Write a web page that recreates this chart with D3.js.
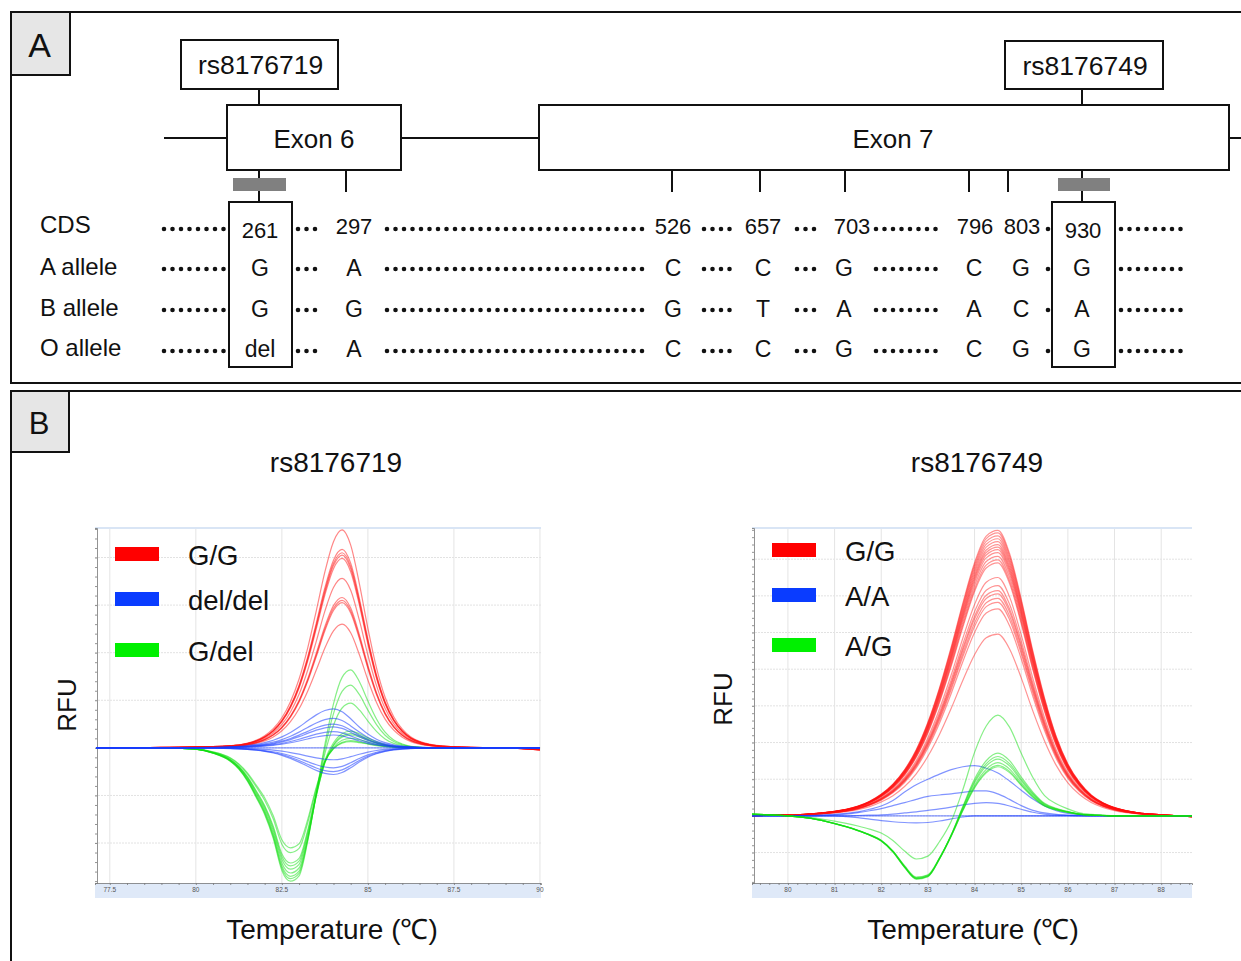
<!DOCTYPE html>
<html><head><meta charset="utf-8">
<script src="https://cdn.jsdelivr.net/npm/d3@7"></script>
<style>
body{margin:0;background:#fff}
svg{display:block}
text{font-family:"Liberation Sans",Arial,Helvetica,sans-serif;fill:#111}
</style>
</head><body>
<svg id="c" width="1241" height="961"></svg>
<script>
// ---------------- Panel A data ----------------
const panelLabels = ["A", "B"];
const snpIds = ["rs8176719", "rs8176749"];
const exonNames = ["Exon 6", "Exon 7"];
const rowLabels = ["CDS", "A allele", "B allele", "O allele"];
const cdsPositions = ["261", "297", "526", "657", "703", "796", "803", "930"];
const alleleA = ["G", "A", "C", "C", "G", "C", "G", "G"];
const alleleB = ["G", "G", "G", "T", "A", "A", "C", "A"];
const alleleO = ["del", "A", "C", "C", "G", "C", "G", "G"];

// ---------------- Panel B data ----------------
const chartTitles = ["rs8176719", "rs8176749"];
const leftLegend = ["G/G", "del/del", "G/del"];
const rightLegend = ["G/G", "A/A", "A/G"];
const leftTicks = [77.5, 80, 82.5, 85, 87.5, 90];
const leftTickLabels = ["77.5", "80", "82.5", "85", "87.5", "90"];
const rightTicks = [80, 81, 82, 83, 84, 85, 86, 87, 88];
const rightTickLabels = ["80", "81", "82", "83", "84", "85", "86", "87", "88"];

// left chart: temperature grid (°C) and curve profiles
const leftTemps = [77.1,78,79,79.5,80,80.5,81,81.25,81.5,81.75,82,82.25,82.5,82.75,83,83.25,83.5,83.75,84,84.25,84.5,84.75,85,85.25,85.5,85.75,86,86.25,86.5,86.75,87,87.5,88,89,90];
const leftRedProfile = [0,0,0.002,0.003,0.005,0.006,0.01,0.014,0.022,0.035,0.056,0.088,0.138,0.212,0.316,0.458,0.629,0.807,0.946,1,0.93,0.755,0.548,0.367,0.232,0.143,0.086,0.05,0.03,0.018,0.011,0.005,0.002,0,-0.01];
const leftBlueProfile = [0,0,0.002,0.003,0.005,0.012,0.027,0.04,0.06,0.09,0.134,0.194,0.281,0.395,0.534,0.692,0.845,0.958,1,0.927,0.744,0.534,0.353,0.22,0.134,0.079,0.046,0.027,0.015,0.009,0.005,0.002,0,0,0];
const leftGreenTrough = [0,0,0,-0.003,-0.01,-0.04,-0.1,-0.16,-0.25,-0.37,-0.5,-0.68,-0.92,-1,-0.96,-0.72,-0.4,-0.15,-0.05,-0.01,0,0,0,0,0,0,0,0,0,0,0,0,0,0,0];
const leftGreenPeak = [0,0,0,0,0,0,0,0,0,0,0,0,0,0,0,0.03,0.1,0.3,0.65,0.92,1,0.85,0.6,0.37,0.2,0.1,0.05,0.02,0.01,0,0,0,0,0,0];
// peak heights (RFU grid units) of each trace
const leftRedPeaks = [4.58, 4.17, 4.1, 4.05, 3.98, 3.56, 3.16, 3.1, 3.05, 2.6];
const leftBluePeaks = [0.82, 0.62, 0.5, 0.44, 0.34, 0.27, 0, -0.25, -0.42, -0.5, -0.56];
const leftGreenTroughDepths = [2.8, 2.75, 2.7, 2.63, 2.55, 2.48, 2.42, 2.2, 2.1];
const leftGreenPeakHeights = [1.64, 1.32, 0.94, 0.3, 0.27, 0.2, 0.35, 0.15, 0.13];

// right chart
const rightTemps = [79.2,79.5,80,80.5,81,81.25,81.5,81.75,82,82.25,82.5,82.75,83,83.25,83.5,83.75,84,84.25,84.5,84.75,85,85.25,85.5,85.75,86,86.25,86.5,86.75,87,87.5,88,88.7];
const rightRedProfile = [0.001,0.002,0.003,0.007,0.016,0.023,0.034,0.051,0.076,0.111,0.161,0.231,0.327,0.448,0.59,0.744,0.884,0.977,0.997,0.916,0.757,0.575,0.411,0.277,0.181,0.117,0.073,0.046,0.029,0.011,0.004,-0.003];
const rightGreenTrough = [0.03,0.02,0,-0.04,-0.12,-0.17,-0.23,-0.3,-0.39,-0.56,-0.8,-0.98,-0.96,-0.72,-0.42,-0.18,-0.07,-0.02,0,0,0,0,0,0,0,0,0,0,0,0,0,0];
const rightGreenPeak = [0,0,0,0,0,0,0,0,0,0,0,0,0.02,0.06,0.13,0.34,0.66,0.9,1,0.88,0.62,0.38,0.2,0.12,0.07,0.03,0.015,0.007,0,0,0,0];
const rightRedPeaks = [7.81, 7.74, 7.66, 7.58, 7.5, 7.42, 7.35, 7.28, 7.2, 7.1, 7.0, 6.92, 6.52, 6.3, 6.16, 6.07, 5.95, 5.84, 5.66, 4.97];
const rightGreenTroughDepths = [1.2, 1.76, 1.74, 1.72, 1.75, 1.7, 1.73];
const rightGreenPeakHeights = [2.75, 1.71, 1.62, 1.55, 1.45, 1.38, 1.34];
const rightBlue1 = [0,0,0,0.01,0.04,0.07,0.11,0.18,0.27,0.42,0.65,0.85,1.0,1.14,1.26,1.34,1.37,1.3,1.17,0.95,0.7,0.46,0.27,0.14,0.07,0.04,0.02,0.01,0,0,0,0];
const rightBlue2 = [0,0,0,0,0.03,0.05,0.09,0.14,0.2,0.28,0.36,0.45,0.53,0.57,0.6,0.64,0.68,0.68,0.6,0.45,0.28,0.15,0.08,0.04,0.02,0.01,0,0,0,0,0,0];
const rightBlue3 = [0,0,0,0,0,0,0.01,0.02,0.03,0.05,0.08,0.11,0.15,0.19,0.24,0.3,0.34,0.36,0.34,0.27,0.18,0.1,0.05,0.02,0.01,0,0,0,0,0,0,0];
const rightBlue4 = [0,0,0,0,0,-0.02,-0.05,-0.09,-0.13,-0.16,-0.18,-0.19,-0.18,-0.14,-0.08,-0.03,0,0,0,0,0,0,0,0,0,0,0,0,0,0,0,0];
const rightBlue5 = [0,0,0,0,0,0,0,0,0,0,0,0,0,0,0,0,0,0,0,0,0,0,0,0,0,0,0,0,0,0,0,0];

// ---------------- drawing ----------------
const svg = d3.select("#c");
const INK = "#111";

// ===== Panel A =====
const A = svg.append("g");
A.append("path").attr("d", "M1245,12 H11 V383 H1245").attr("fill", "none").attr("stroke", INK).attr("stroke-width", 2);
svg.append("path").attr("d", "M1245,391 H11 V965").attr("fill", "none").attr("stroke", INK).attr("stroke-width", 2);
const labelBoxes = [{x: 11, y: 12, w: 59, h: 63, fs: 34, ty: 57}, {x: 11, y: 391, w: 58, h: 61, fs: 31, ty: 434}];
panelLabels.forEach((t, i) => {
  const b = labelBoxes[i];
  svg.append("rect").attr("x", b.x).attr("y", b.y).attr("width", b.w).attr("height", b.h)
    .attr("fill", "#e6e6e6").attr("stroke", INK).attr("stroke-width", 2);
  svg.append("text").attr("x", b.x + b.w / 2 - 1).attr("y", b.ty).attr("text-anchor", "middle")
    .attr("font-size", b.fs).text(t);
});

const intronY = 138;
[[164, 227], [401, 539], [1229, 1245]].forEach(s => {
  A.append("line").attr("x1", s[0]).attr("x2", s[1]).attr("y1", intronY).attr("y2", intronY)
    .attr("stroke", INK).attr("stroke-width", 2);
});
const exonBoxes = [{x: 227, w: 174, cx: 314}, {x: 539, w: 690, cx: 893}];
exonNames.forEach((n, i) => {
  const e = exonBoxes[i];
  A.append("rect").attr("x", e.x).attr("y", 105).attr("width", e.w).attr("height", 65)
    .attr("fill", "#fff").attr("stroke", INK).attr("stroke-width", 2);
  A.append("text").attr("x", e.cx).attr("y", 148).attr("text-anchor", "middle").attr("font-size", 26).text(n);
});
const snpBoxes = [{x: 181, y: 40, w: 157, h: 49, cx: 259}, {x: 1005, y: 41, w: 158, h: 48, cx: 1082}];
snpIds.forEach((n, i) => {
  const b = snpBoxes[i];
  A.append("line").attr("x1", b.cx).attr("x2", b.cx).attr("y1", b.y + b.h).attr("y2", 105).attr("stroke", INK).attr("stroke-width", 2);
  A.append("rect").attr("x", b.x).attr("y", b.y).attr("width", b.w).attr("height", b.h)
    .attr("fill", "#fff").attr("stroke", INK).attr("stroke-width", 2);
  A.append("text").attr("x", b.x + b.w / 2 + 1).attr("y", b.y + 34).attr("text-anchor", "middle").attr("font-size", 26.5).text(n);
});
const tickX = [259, 346, 672, 760, 845, 969, 1008, 1082];
const snpCols = [0, 7];
tickX.forEach((x, i) => {
  const isSnp = snpCols.includes(i);
  A.append("line").attr("x1", x).attr("x2", x).attr("y1", 170).attr("y2", isSnp ? 202 : 192)
    .attr("stroke", INK).attr("stroke-width", 2);
});
[[233, 286], [1058, 1110]].forEach(s => {
  A.append("rect").attr("x", s[0]).attr("y", 178).attr("width", s[1] - s[0]).attr("height", 13).attr("fill", "#808080");
});
[[229, 292], [1052, 1115]].forEach(s => {
  A.append("rect").attr("x", s[0]).attr("y", 202).attr("width", s[1] - s[0]).attr("height", 165)
    .attr("fill", "none").attr("stroke", INK).attr("stroke-width", 2);
});

const rowDotY = [229, 269, 310, 351];
const rowTextY = [234, 276, 317, 357];
const dotSegs = [[164, 224], [298, 323], [387, 642], [704, 734], [797, 814], [876, 941], [1048, 1049], [1121, 1186]];
rowLabels.forEach((lab, r) => {
  A.append("text").attr("x", 40).attr("y", rowTextY[r] - 1).attr("font-size", 24).text(lab);
  dotSegs.forEach(s => {
    A.append("line").attr("x1", s[0]).attr("x2", s[1] + 0.1).attr("y1", rowDotY[r]).attr("y2", rowDotY[r])
      .attr("stroke", INK).attr("stroke-width", 4.6).attr("stroke-linecap", "round")
      .attr("stroke-dasharray", "0 8.5");
  });
});
const numX = [260, 354, 673, 763, 852, 975, 1022, 1083];
const letX = [260, 354, 673, 763, 844, 974, 1021, 1082];
cdsPositions.forEach((t, i) => {
  A.append("text").attr("x", numX[i]).attr("y", rowTextY[0] + (snpCols.includes(i) ? 4 : 0))
    .attr("text-anchor", "middle").attr("font-size", 22).text(t);
});
[alleleA, alleleB, alleleO].forEach((row, r) => {
  row.forEach((t, i) => {
    A.append("text").attr("x", letX[i]).attr("y", rowTextY[r + 1]).attr("text-anchor", "middle")
      .attr("font-size", 23).text(t);
  });
});

// ===== Panel B =====
const line = (x, y) => d3.line().x(d => x(d[0])).y(d => y(d[1])).curve(d3.curveMonotoneX);

function drawChart(cfg) {
  const g = svg.append("g");
  const x = d3.scaleLinear().domain(cfg.xDomain).range([cfg.x0, cfg.x1]);
  const y = d3.scaleLinear().domain(cfg.yDomain).range([883, 528]);
  const id = "clip" + cfg.key;
  svg.append("clipPath").attr("id", id).append("rect")
    .attr("x", cfg.x0).attr("y", 527).attr("width", cfg.x1 - cfg.x0).attr("height", 357);
  g.append("rect").attr("x", cfg.x0).attr("y", 883).attr("width", cfg.x1 - cfg.x0).attr("height", 15).attr("fill", "#dfe9f8");
  g.append("line").attr("x1", cfg.x0).attr("x2", cfg.x1).attr("y1", 528).attr("y2", 528).attr("stroke", "#cddcf2").attr("stroke-width", 1.5);
  const gy = d3.range(Math.ceil(cfg.yDomain[0]), Math.floor(cfg.yDomain[1]) + 1);
  g.selectAll(null).data(gy).join("line")
    .attr("x1", cfg.x0).attr("x2", cfg.x1).attr("y1", d => y(d)).attr("y2", d => y(d))
    .attr("stroke", "#e2e2e2").attr("stroke-width", 1).attr("stroke-dasharray", "2 1");
  g.selectAll(null).data(cfg.ticks).join("line")
    .attr("x1", d => x(d)).attr("x2", d => x(d)).attr("y1", 529).attr("y2", 883)
    .attr("stroke", "#e4e4e4").attr("stroke-width", 1);
  const yAxis = d3.axisLeft(y).tickValues(d3.range(Math.ceil(cfg.yDomain[0] * 5) / 5, cfg.yDomain[1], 0.2)).tickSize(2).tickFormat("");
  g.append("g").attr("transform", `translate(${cfg.x0 + 2},0)`).call(yAxis)
    .call(s => s.selectAll("path,line").attr("stroke", "#777").attr("stroke-width", 0.8));
  const xAxis = d3.axisBottom(x).tickValues(cfg.minor).tickSize(2).tickFormat("");
  g.append("g").attr("transform", "translate(0,883)").call(xAxis)
    .call(s => s.selectAll("path,line").attr("stroke", "#777").attr("stroke-width", 0.8));
  g.selectAll(null).data(cfg.ticks).join("text")
    .attr("x", d => x(d)).attr("y", 892).attr("text-anchor", "middle").attr("font-size", 6.5)
    .style("fill", "#555").text((d, i) => cfg.tickLabels[i]);
  g.append("text").attr("x", cfg.x1 + cfg.tempDx).attr("y", 897).attr("text-anchor", "end")
    .attr("font-size", 6).style("fill", "#555").attr("clip-path", `url(#${id})`)
    .text("Temperature (°C)");
  const cg = g.append("g").attr("clip-path", `url(#${id})`);
  const gen = line(x, y);
  cfg.groups.forEach(gr => {
    cg.append("g").selectAll("path").data(gr.series).join("path")
      .attr("d", s => gen(s)).attr("fill", "none").attr("stroke", gr.color)
      .attr("stroke-width", 1.2).attr("stroke-opacity", gr.op);
  });
  cfg.legend.forEach((t, i) => {
    g.append("rect").attr("x", cfg.lx).attr("y", cfg.ly[i]).attr("width", 44).attr("height", 14).attr("fill", cfg.legendColors[i]);
    g.append("text").attr("x", cfg.lx + 73).attr("y", cfg.ly[i] + 18).attr("font-size", 27.5).text(t);
  });
  svg.append("text").attr("transform", `translate(${cfg.rfuX},${cfg.rfuY}) rotate(-90)`)
    .attr("text-anchor", "middle").attr("font-size", 26).text("RFU");
  svg.append("text").attr("x", cfg.titleX).attr("y", 472).attr("text-anchor", "middle").attr("font-size", 28).text(cfg.title);
  svg.append("text").attr("x", cfg.titleX - 4).attr("y", 939).attr("text-anchor", "middle").attr("font-size", 28).text("Temperature (℃)");
}

const zip = (temps, vals) => temps.map((t, i) => [t, vals[i]]);
const scaled = (temps, prof, a) => zip(temps, prof.map(v => v * a));
const mix = (temps, p1, a1, p2, a2) => zip(temps, p1.map((v, i) => v * a1 + p2[i] * a2));

drawChart({
  key: "L", x0: 95, x1: 541, xDomain: [77.07, 90.03], yDomain: [-2.84, 4.62],
  ticks: leftTicks, tickLabels: leftTickLabels, minor: d3.range(77.5, 90.01, 0.5), tempDx: -1,
  title: chartTitles[0], titleX: 336, rfuX: 76, rfuY: 705,
  legend: leftLegend, legendColors: ["#ff0000", "#0a3cff", "#00f000"], lx: 115, ly: [547, 592, 643],
  groups: [
    {color: "#ff1010", op: 0.5, series: leftRedPeaks.map(a => scaled(leftTemps, leftRedProfile, a))},
    {color: "#10e010", op: 0.5, series: leftGreenTroughDepths.map((a, i) => mix(leftTemps, leftGreenTrough, a, leftGreenPeak, leftGreenPeakHeights[i]))},
    {color: "#1a3cff", op: 0.55, series: leftBluePeaks.map(a => scaled(leftTemps, leftBlueProfile, a))}
  ]
});

drawChart({
  key: "R", x0: 752, x1: 1192, xDomain: [79.23, 88.66], yDomain: [-1.83, 7.85],
  ticks: rightTicks, tickLabels: rightTickLabels, minor: d3.range(79.4, 88.61, 0.2), tempDx: 8,
  title: chartTitles[1], titleX: 977, rfuX: 732, rfuY: 699,
  legend: rightLegend, legendColors: ["#ff0000", "#0a3cff", "#00f000"], lx: 772, ly: [543, 588, 638],
  groups: [
    {color: "#ff1010", op: 0.45, series: rightRedPeaks.map(a => scaled(rightTemps, rightRedProfile, a))},
    {color: "#1a3cff", op: 0.55, series: [rightBlue1, rightBlue2, rightBlue3, rightBlue4, rightBlue5].map(v => zip(rightTemps, v))},
    {color: "#10e010", op: 0.5, series: rightGreenTroughDepths.map((a, i) => mix(rightTemps, rightGreenTrough, a, rightGreenPeak, rightGreenPeakHeights[i]))}
  ]
});
</script>
</body></html>
